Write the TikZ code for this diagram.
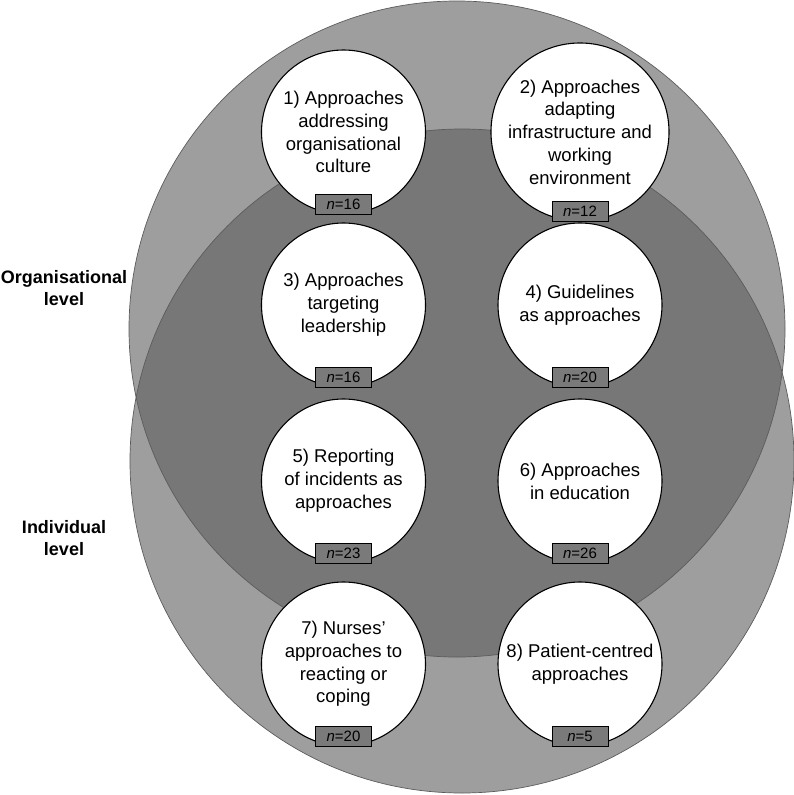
\documentclass[tikz,border=0pt]{standalone}
\usepackage{fontspec}
\setmainfont{Liberation Sans}
\usetikzlibrary{positioning}
\definecolor{outergray}{HTML}{9E9E9E}
\definecolor{innergray}{HTML}{777777}
\definecolor{rimgray}{HTML}{5C5C5C}
\definecolor{tagfill}{HTML}{7A7A7A}
\tikzset{
  theme/.style={circle,draw=black,fill=white,line width=1.1pt,
                minimum size=164pt,inner sep=0pt,align=center,
                font=\fontsize{18.5}{22.8}\selectfont},
  counttag/.style={draw=black,fill=tagfill,line width=0.8pt,
                   minimum width=56pt,minimum height=20pt,inner sep=0pt,
                   font=\fontsize{15}{17}\selectfont},
  levellabel/.style={align=center,font=\fontsize{18}{22}\selectfont\bfseries},
  rim/.style={draw=rimgray,line width=0.7pt}
}
\begin{document}
\begin{tikzpicture}[x=1pt,y=-1pt]
      \useasboundingbox (0,0) rectangle (794,795);
      % the two levels
      \fill[outergray] (457,329) circle [radius=328pt];
      \fill[outergray] (462,461) circle [radius=332pt];
      \begin{scope}
        \clip (457,329) circle [radius=328pt];
        \fill[innergray] (462,461) circle [radius=332pt];
      \end{scope}
      \draw[rim] (457,329) circle [radius=328pt];
      \draw[rim] (462,461) circle [radius=332pt];

      \node[levellabel] (org) at (64,288) {Organisational\\level};
      \node[levellabel] (ind) at (64,538) {Individual\\level};

      % themes
      \node[theme] (c1) at (343.5,132) {1) Approaches\\addressing\\organisational\\culture};
      \node[theme] (c2) at (580,132) {2) Approaches\\adapting\\infrastructure and\\working\\environment};
      \node[theme] (c3) at (343.5,305) {3) Approaches\\targeting\\leadership};
      \node[theme] (c4) at (580,305) {4) Guidelines\\as approaches};
      \node[theme] (c5) at (343.5,481) {5) Reporting\\of incidents as\\approaches};
      \node[theme] (c6) at (580,481) {6) Approaches\\in education};
      \node[theme] (c7) at (343.5,664) {7) Nurses’\\approaches to\\reacting or\\coping};
      \node[theme] (c8) at (580,664) {8) Patient-centred\\approaches};

      % counts
      \node[counttag,anchor=south] (t1) at (c1.south) {\textit{n}=16};
      \node[counttag,anchor=south] (t2) at (c2.south) {\textit{n}=12};
      \node[counttag,anchor=south] (t3) at (c3.south) {\textit{n}=16};
      \node[counttag,anchor=south] (t4) at (c4.south) {\textit{n}=20};
      \node[counttag,anchor=south] (t5) at (c5.south) {\textit{n}=23};
      \node[counttag,anchor=south] (t6) at (c6.south) {\textit{n}=26};
      \node[counttag,anchor=south] (t7) at (c7.south) {\textit{n}=20};
      \node[counttag,anchor=south] (t8) at (c8.south) {\textit{n}=5};
    \end{tikzpicture}
\end{document}
